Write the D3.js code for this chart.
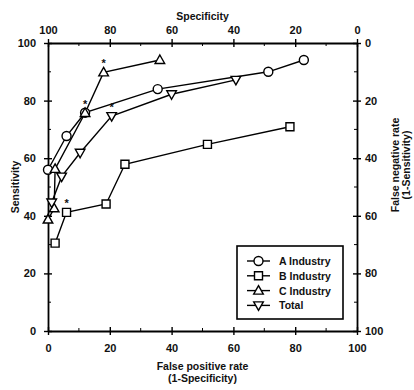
<!DOCTYPE html>
<html>
<head>
<meta charset="utf-8">
<script src="https://cdn.jsdelivr.net/npm/d3@7"></script>
<style>
  body { margin: 0; background: #fff; }
  svg text { font-family: "Liberation Sans", Arial, sans-serif; font-weight: bold; fill: #111; }
</style>
</head>
<body>
<div class="chart"></div>
<script>
// data: false positive rate (x) vs sensitivity (y)
const seriesNames = ['A Industry', 'B Industry', 'C Industry', 'Total'];
const aFpr = [0, 6, 12, 35.5, 71.3, 82.8];
const aSens = [56, 67.7, 75.8, 84, 90, 94.1];
const bFpr = [2.3, 6, 18.8, 24.9, 51.6, 78.3];
const bSens = [30.5, 41.2, 44.1, 57.9, 64.8, 70.9];
const cFpr = [0, 2, 2.3, 12, 18, 36.2];
const cSens = [38.7, 42.6, 56.3, 75.7, 89.8, 94.1];
const tFpr = [1.2, 4.4, 10.4, 20.6, 40, 60.8];
const tSens = [44.6, 53.6, 61.9, 74.6, 82.2, 87.2];
// points marked with an asterisk
const aStar = [0, 0, 0, 0, 0, 0];
const bStar = [0, 1, 0, 0, 0, 0];
const cStar = [0, 0, 0, 1, 1, 0];
const tStar = [0, 0, 0, 1, 0, 0];
const tickVals = [0, 20, 40, 60, 80, 100];
const minorVals = [10, 30, 50, 70, 90];

const W = 414, H = 390;
const margin = { top: 43, right: 57, bottom: 59, left: 48 };

const svg = d3.select('.chart').append('svg')
  .attr('width', W)
  .attr('height', H);

const x = d3.scaleLinear().domain([0, 100]).range([margin.left, W - margin.right]);
const y = d3.scaleLinear().domain([0, 100]).range([H - margin.bottom, margin.top]);
const xTop = d3.scaleLinear().domain([100, 0]).range([margin.left, W - margin.right]);
const yRight = d3.scaleLinear().domain([0, 100]).range([margin.top, H - margin.bottom]);

const x0 = margin.left, x1 = W - margin.right, y0 = H - margin.bottom, y1 = margin.top;

//axes-----------------------------
function styleAxis(g) {
  g.select('.domain').attr('stroke-width', 1.8);
  g.selectAll('.tick line').attr('stroke-width', 1.4);
  g.selectAll('text').style('font-size', '11px');
}

svg.append('g')
  .attr('transform', `translate(0,${y0})`)
  .call(d3.axisBottom(x).tickValues(tickVals).tickSize(4).tickPadding(9).tickSizeOuter(0))
  .call(styleAxis)
  .selectAll('.tick line').attr('y1', -4);

svg.append('g')
  .attr('transform', `translate(${x0},0)`)
  .call(d3.axisLeft(y).tickValues(tickVals).tickSize(4).tickPadding(8).tickSizeOuter(0))
  .call(styleAxis)
  .selectAll('.tick line').attr('x1', 4);

svg.append('g')
  .attr('transform', `translate(0,${y1})`)
  .call(d3.axisTop(xTop).tickValues(tickVals).tickSize(4).tickPadding(5).tickSizeOuter(0))
  .call(styleAxis)
  .selectAll('.tick line').attr('y1', 4);

svg.append('g')
  .attr('transform', `translate(${x1},0)`)
  .call(d3.axisRight(yRight).tickValues(tickVals).tickSize(4).tickPadding(4).tickSizeOuter(0))
  .call(styleAxis)
  .selectAll('.tick line').attr('x1', -4);

// minor ticks
svg.selectAll('.minor-x').data(minorVals).enter().append('line')
  .attr('x1', d => x(d)).attr('x2', d => x(d))
  .attr('y1', y0).attr('y2', y0 - 3)
  .attr('stroke', '#000').attr('stroke-width', 1);
svg.selectAll('.minor-xt').data(minorVals).enter().append('line')
  .attr('x1', d => x(d)).attr('x2', d => x(d))
  .attr('y1', y1).attr('y2', y1 + 3)
  .attr('stroke', '#000').attr('stroke-width', 1);
svg.selectAll('.minor-y').data(minorVals).enter().append('line')
  .attr('x1', x0).attr('x2', x0 + 3)
  .attr('y1', d => y(d)).attr('y2', d => y(d))
  .attr('stroke', '#000').attr('stroke-width', 1);
svg.selectAll('.minor-yr').data(minorVals).enter().append('line')
  .attr('x1', x1).attr('x2', x1 - 3)
  .attr('y1', d => y(d)).attr('y2', d => y(d))
  .attr('stroke', '#000').attr('stroke-width', 1);

//series------------------------------
const series = [
  { name: seriesNames[0], xs: aFpr, ys: aSens, stars: aStar, sym: 'circle' },
  { name: seriesNames[1], xs: bFpr, ys: bSens, stars: bStar, sym: 'square' },
  { name: seriesNames[2], xs: cFpr, ys: cSens, stars: cStar, sym: 'up' },
  { name: seriesNames[3], xs: tFpr, ys: tSens, stars: tStar, sym: 'down' }
];

function marker(g, sym, cx, cy) {
  const m = g.append(sym === 'circle' ? 'circle' : 'path')
    .attr('fill', '#fff').attr('stroke', '#000').attr('stroke-width', 1.4);
  if (sym === 'circle') m.attr('cx', cx).attr('cy', cy).attr('r', 4.5);
  else if (sym === 'square') m.attr('d', `M${cx - 4},${cy - 4}h8v8h-8Z`);
  else if (sym === 'up') m.attr('d', `M${cx},${cy - 5}L${cx + 4.8},${cy + 3.5}L${cx - 4.8},${cy + 3.5}Z`);
  else m.attr('d', `M${cx},${cy + 5}L${cx + 4.8},${cy - 3.5}L${cx - 4.8},${cy - 3.5}Z`);
}

const line = d3.line().x(d => x(d[0])).y(d => y(d[1]));

series.forEach(s => {
  const pts = s.xs.map((v, i) => [v, s.ys[i]]);
  svg.append('path')
    .attr('d', line(pts))
    .attr('fill', 'none')
    .attr('stroke', '#000')
    .attr('stroke-width', 1.4);
});

series.forEach(s => {
  const g = svg.append('g');
  s.xs.forEach((v, i) => {
    marker(g, s.sym, x(v), y(s.ys[i]));
    if (s.stars[i]) {
      g.append('text')
        .attr('x', x(v)).attr('y', y(s.ys[i]) - 5)
        .attr('text-anchor', 'middle')
        .style('font-size', '11px')
        .text('*');
    }
  });
});

//legend------------------------------
const lg = svg.append('g').attr('transform', 'translate(237,246)');
lg.append('rect')
  .attr('width', 106).attr('height', 73)
  .attr('fill', '#fff').attr('stroke', '#000').attr('stroke-width', 1.6);
series.forEach((s, i) => {
  const ly = 15 + i * 14.8;
  lg.append('line').attr('x1', 10).attr('x2', 33).attr('y1', ly).attr('y2', ly)
    .attr('stroke', '#000').attr('stroke-width', 1.4);
  marker(lg, s.sym, 21.5, ly);
  lg.append('text').attr('x', 42).attr('y', ly + 4)
    .style('font-size', '10.5px').text(s.name);
});

//axis titles-------------------------
svg.append('text')
  .attr('x', (x0 + x1) / 2).attr('y', 20)
  .attr('text-anchor', 'middle').style('font-size', '10.5px')
  .text('Specificity');

svg.append('text')
  .attr('x', (x0 + x1) / 2).attr('y', 370)
  .attr('text-anchor', 'middle').style('font-size', '10.5px')
  .text('False positive rate');
svg.append('text')
  .attr('x', (x0 + x1) / 2).attr('y', 382)
  .attr('text-anchor', 'middle').style('font-size', '10.5px')
  .text('(1-Specificity)');

svg.append('text')
  .attr('transform', `translate(19,${(y0 + y1) / 2}) rotate(-90)`)
  .attr('text-anchor', 'middle').style('font-size', '10.5px')
  .text('Sensitivity');

svg.append('text')
  .attr('transform', `translate(399,165) rotate(-90)`)
  .attr('text-anchor', 'middle').style('font-size', '10.5px')
  .text('False negative rate');
svg.append('text')
  .attr('transform', `translate(410,165) rotate(-90)`)
  .attr('text-anchor', 'middle').style('font-size', '10.5px')
  .text('(1-Sensitivity)');
</script>
</body>
</html>
